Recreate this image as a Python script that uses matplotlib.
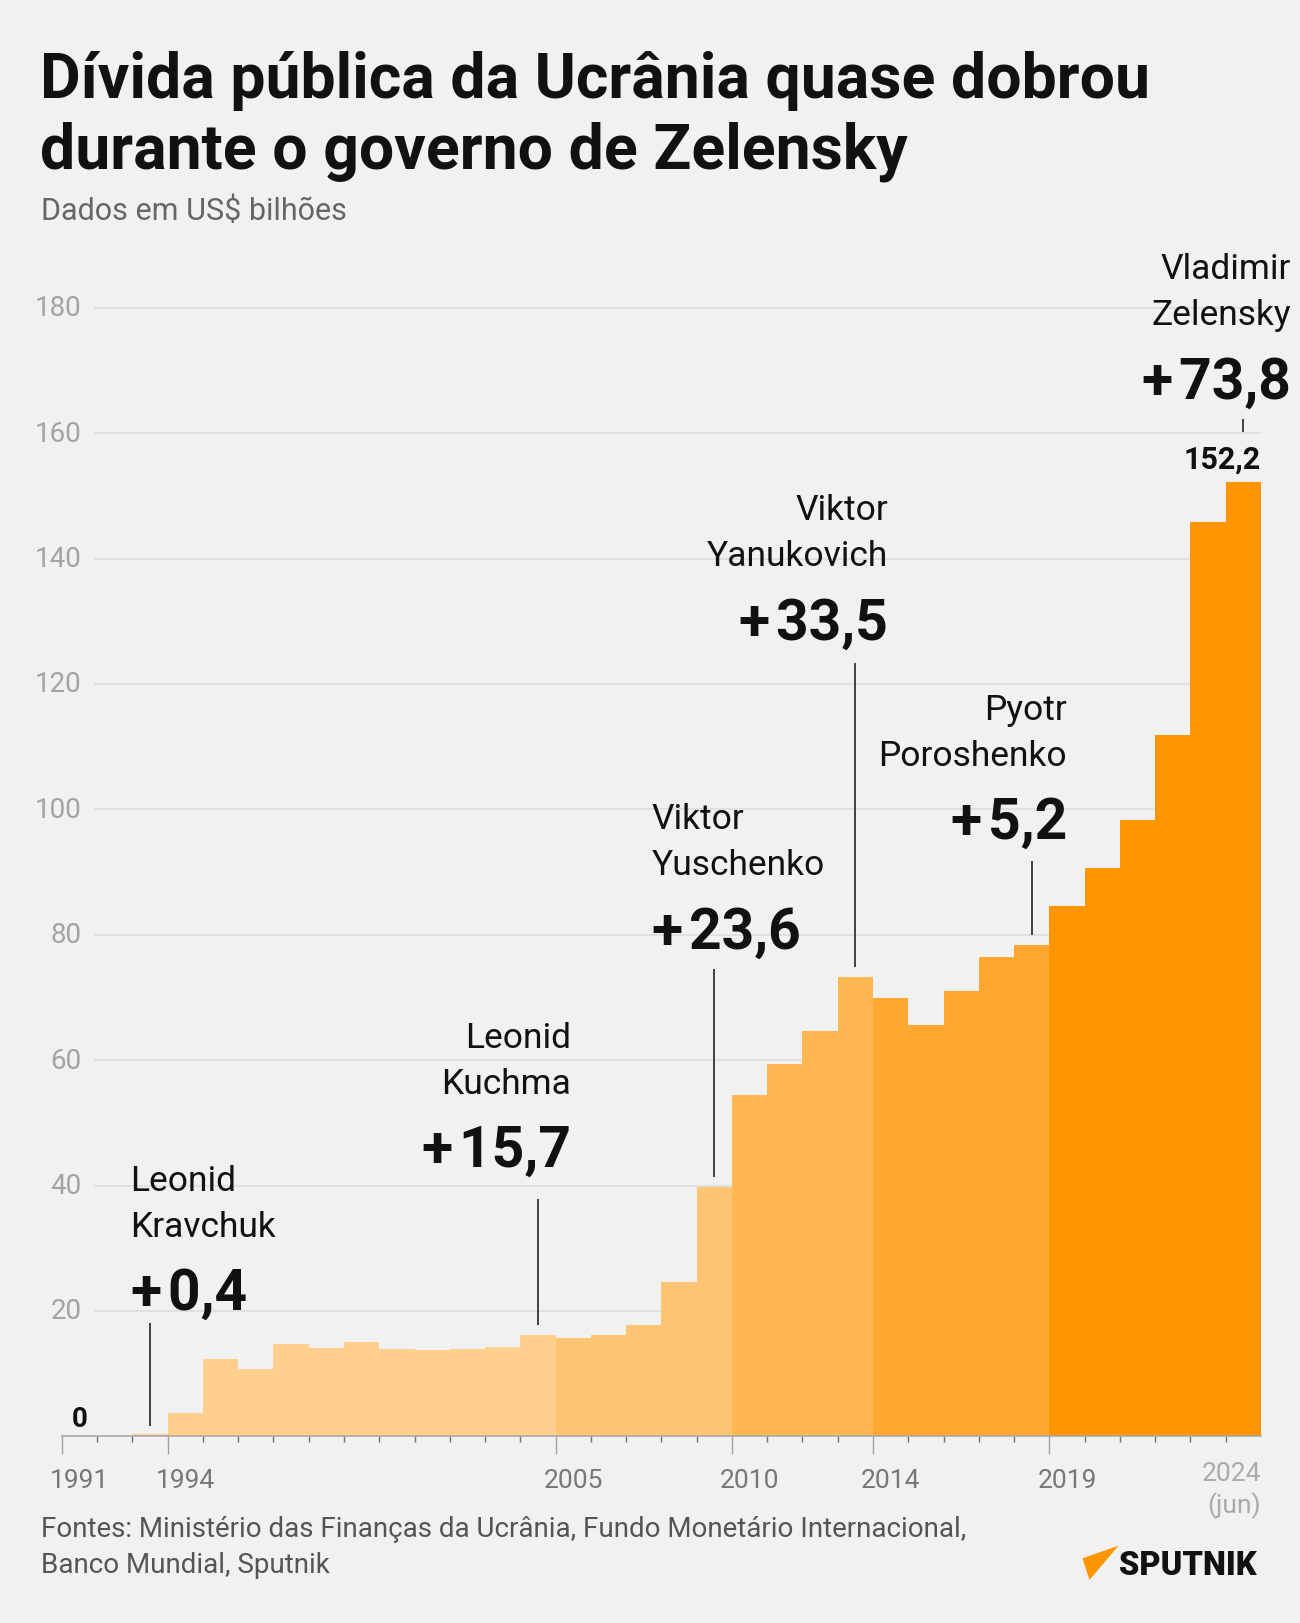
"""Ukraine public debt by president, 1991-2024 (step bars with annotations)."""

import matplotlib.pyplot as plt
from matplotlib.patches import Polygon

plt.rcParams["font.family"] = ["Roboto", "DejaVu Sans"]

# --- data -------------------------------------------------------------------
years = list(range(1991, 2025))
debt = [
    0.0, 0.0, 0.4, 3.7, 12.3, 10.7, 14.7, 14.1, 15.0, 13.9,
    13.8, 13.9, 14.2, 16.1, 15.7, 16.1, 17.8, 24.6, 39.7, 54.5,
    59.3, 64.6, 73.2, 69.9, 65.6, 71.1, 76.4, 78.4, 84.6, 90.6,
    98.3, 111.9, 145.9, 152.2,
]
segment_starts = [1991, 2005, 2010, 2014, 2019]
segment_colors = ["#FFCF8D", "#FFC575", "#FFB752", "#FFA731", "#FF9600"]

major_years = [1991, 1994, 2005, 2010, 2014, 2019]
y_grid = [20, 40, 60, 80, 100, 120, 140, 160, 180]

first_names = ["Leonid", "Leonid", "Viktor", "Viktor", "Pyotr", "Vladimir"]
last_names = ["Kravchuk", "Kuchma", "Yuschenko", "Yanukovich", "Poroshenko", "Zelensky"]
deltas = ["+0,4", "+15,7", "+23,6", "+33,5", "+5,2", "+73,8"]
end_years = [1993, 2004, 2009, 2013, 2018, 2024]

# --- layout (label anchors and leader-line spans, data units) ----------------
label_x = [1992.95, 2005.44, 2007.72, 2014.42, 2019.5, 2025.84]
label_ha = ["left", "right", "left", "right", "right", "right"]
label_y = [20.3, 43.1, 77.9, 127.2, 95.4, 165.7]
leader_spans = [(1.6, 18.1), (17.8, 37.9), (41.4, 74.6), (74.9, 123.3), (80.0, 91.8), (160.2, 162.3)]

W, H = 1300, 1624
BG = "#F1F1F1"

fig = plt.figure(figsize=(W / 100, H / 100), dpi=100, facecolor=BG)
ax = fig.add_axes([61.8 / W, 1 - 1437.3 / H, (1261 - 61.8) / W, 1191.3 / H])
ax.set_facecolor(BG)
ax.set_xlim(1991, 2025)
ax.set_ylim(0, 190)


def _color_for(year):
    color = segment_colors[0]
    for start, c in zip(segment_starts, segment_colors):
        if year >= start:
            color = c
    return color


# grid + y labels
ax.hlines(y_grid, 1991.91, 2025, color="#E0E0E0", linewidth=1.4, zorder=0)
for v in y_grid:
    ax.text(1991.57, v, str(v), ha="right", va="center", fontsize=20, color="#A3A3A3")

# bars
ax.bar(years, debt, width=1.0, align="edge", color=[_color_for(y) for y in years],
       linewidth=0, zorder=2)

# axis
for side in ("top", "right", "left"):
    ax.spines[side].set_visible(False)
ax.spines["bottom"].set_color("#A8A8A8")
ax.spines["bottom"].set_linewidth(1.2)
ax.spines["bottom"].set_zorder(3)
ax.set_yticks([])
ax.set_xticks(major_years, labels=[""] * len(major_years))
ax.set_xticks(range(1992, 2025), minor=True)
ax.tick_params(axis="x", which="major", length=12.7, width=1.0, color="#A0A0A0")
ax.tick_params(axis="x", which="minor", length=4.3, width=1.0, color="#707070")

for yr in major_years:
    ax.annotate(str(yr), xy=(yr + 0.5, 0), xycoords=("data", "axes fraction"),
                xytext=(0, -43.7), textcoords="offset pixels",
                ha="center", va="center", fontsize=19, color="#777777")
ax.annotate("2024", xy=(2025, 0), xycoords=("data", "axes fraction"),
            xytext=(0, -37), textcoords="offset pixels",
            ha="right", va="center", fontsize=19, color="#AAAAAA")
ax.annotate("(jun)", xy=(2025, 0), xycoords=("data", "axes fraction"),
            xytext=(0, -68), textcoords="offset pixels",
            ha="right", va="center", fontsize=19, color="#AAAAAA")

# bar value labels
ax.annotate("0", xy=(1991.5, debt[0]), xytext=(0, 10), textcoords="offset pixels",
            ha="center", va="baseline", fontsize=20, fontweight="bold", color="#111111")
ax.annotate(f"{debt[-1]:.1f}".replace(".", ","), xy=(2025, debt[-1]), xytext=(0, 14.7),
            textcoords="offset pixels", ha="right", va="baseline",
            fontsize=22, fontweight="bold", color="#111111")

# president annotations
for first, last, delta, end, x, ha, y, (y0, y1) in zip(
    first_names, last_names, deltas, end_years, label_x, label_ha, label_y, leader_spans
):
    ax.vlines(end + 0.5, y0, y1, color="#333333", linewidth=1.3, zorder=4)
    ax.text(x, y, delta.replace("+", "+\u200a"), ha=ha, va="baseline", fontsize=41,
            fontweight="bold", color="#111111", clip_on=False)
    ax.annotate(last, xy=(x, y), xytext=(0, 73.5), textcoords="offset pixels",
                ha=ha, va="baseline", fontsize=25.5, color="#111111", annotation_clip=False)
    ax.annotate(first, xy=(x, y), xytext=(0, 119.5), textcoords="offset pixels",
                ha=ha, va="baseline", fontsize=25.5, color="#111111", annotation_clip=False)

# title, subtitle, footer
fig.text(40 / W, 1 - 98.3 / H, "Dívida pública da Ucrânia quase dobrou",
         fontsize=45, fontweight="bold", color="#111111", va="baseline")
fig.text(40 / W, 1 - 168.3 / H, "durante o governo de Zelensky",
         fontsize=45, fontweight="bold", color="#111111", va="baseline")
fig.text(41 / W, 1 - 220 / H, "Dados em US$ bilhões",
         fontsize=22, color="#666666", va="baseline")
fig.text(41 / W, 1 - 1536.7 / H,
         "Fontes: Ministério das Finanças da Ucrânia, Fundo Monetário Internacional,",
         fontsize=20, color="#555555", va="baseline")
fig.text(41 / W, 1 - 1573.3 / H, "Banco Mundial, Sputnik",
         fontsize=20, color="#555555", va="baseline")

# logo
logo_px = [(1082.4, 1559.3), (1118.5, 1546.7), (1089.5, 1581.0)]
fig.patches.append(Polygon([(x / W, 1 - y / H) for x, y in logo_px], closed=True,
                           transform=fig.transFigure, facecolor="#FF9600", edgecolor="none"))
fig.text(1257 / W, 1 - 1575 / H, "SPUTNIK", ha="right", va="baseline",
         fontsize=23.5, fontweight="heavy", color="#111111")

fig.savefig("out.png", dpi=100, facecolor=BG)
